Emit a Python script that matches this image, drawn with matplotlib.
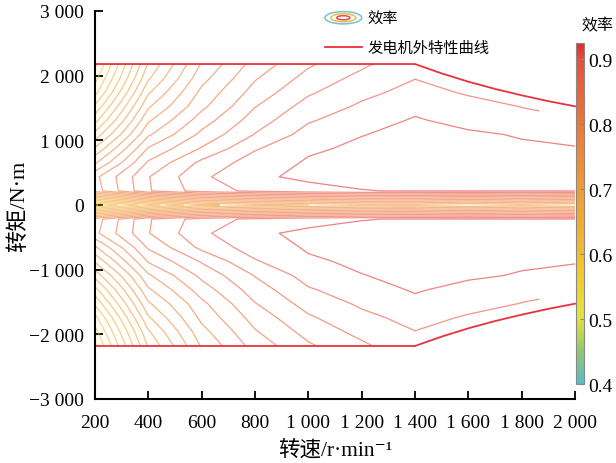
import numpy as np
import matplotlib
matplotlib.use("Agg")
import matplotlib.pyplot as plt
from matplotlib.colors import LinearSegmentedColormap, Normalize
from matplotlib.patches import Ellipse
from matplotlib.lines import Line2D
from matplotlib.legend_handler import HandlerBase

plt.rcParams['font.family'] = ['Liberation Serif', 'Noto Sans CJK SC', 'DejaVu Serif']
plt.rcParams['axes.unicode_minus'] = True

# grid of the efficiency map (upper half, mirrored below)
speed = [200, 400, 600, 800, 1000, 1200, 1400, 1600, 1800, 2000]
torque_half = [0, 218, 436, 654, 872, 1090, 1308, 1526, 1744, 1962, 2180]
nan = np.nan
# rows = torque_half, cols = speed; nan = outside the generator envelope
eff_half = [
    [0.597, 0.650, 0.695, 0.710, 0.720, 0.730, 0.730, 0.720, 0.730, 0.720],
    [0.790, 0.858, 0.890, 0.905, 0.915, 0.9195, 0.921, 0.921, 0.921, 0.921],
    [0.795, 0.859, 0.896, 0.9175, 0.923, 0.924, 0.925, 0.925, 0.924, 0.923],
    [0.757, 0.843, 0.885, 0.910, 0.922, 0.924, 0.925, 0.925, 0.924, 0.923],
    [0.723, 0.822, 0.862, 0.898, 0.9175, 0.923, 0.925, 0.924, 0.923, 0.9215],
    [0.687, 0.797, 0.845, 0.881, 0.908, 0.9195, 0.924, 0.923, 0.9185, 0.913],
    [0.653, 0.777, 0.830, 0.870, 0.898, 0.911, 0.922, 0.914, 0.906, 0.901],
    [0.623, 0.757, 0.815, 0.859, 0.888, 0.903, 0.915, 0.906, 0.8995, nan],
    [0.593, 0.737, 0.805, 0.848, 0.877, 0.895, 0.906, 0.898, nan, nan],
    [0.572, 0.717, 0.793, 0.838, 0.867, 0.886, 0.8995, nan, nan, nan],
    [0.555, 0.702, 0.782, 0.828, 0.857, 0.876, 0.895, nan, nan, nan],
]

# generator external characteristic (torque limit)
ext_speed = [200, 1400, 1500, 1600, 1700, 1800, 1900, 2000]
ext_torque = [2180, 2180, 2035, 1907, 1795, 1696, 1606, 1526]

levels = np.round(np.arange(0.40, 0.93, 0.02), 2)
cb_ticks = [0.4, 0.5, 0.6, 0.7, 0.8, 0.9]
cb_ticklabels = ['0.4', '0.5', '0.6', '0.7', '0.8', '0.9']
x_ticks = [200, 400, 600, 800, 1000, 1200, 1400, 1600, 1800, 2000]
x_ticklabels = ['200', '400', '600', '800', '1 000', '1 200', '1 400', '1 600', '1 800', '2 000']
y_ticks = [-3000, -2000, -1000, 0, 1000, 2000, 3000]
y_ticklabels = ['−3 000', '−2 000', '−1 000', '0', '1 000', '2 000', '3 000']

eh = np.array(eff_half)
th = np.array(torque_half)
torque = np.concatenate([-th[::-1], th[1:]])
eff = np.ma.masked_invalid(np.vstack([eh[::-1], eh[1:]]))

cmap = LinearSegmentedColormap.from_list('eff', [
    (0.0, '#55bfca'),
    (0.095, '#93c66e'),
    (0.19, '#e2e33c'),
    (0.29, '#f1d032'),
    (0.38, '#f1bd30'),
    (0.57, '#f09c32'),
    (0.76, '#ee7838'),
    (0.95, '#e8503a'),
    (1.0, '#e42a2a'),
])
norm = Normalize(vmin=0.4, vmax=0.925)

fig = plt.figure(figsize=(6.16, 4.64), dpi=100)
ax = fig.add_axes([95 / 616, 1 - 400 / 464, 480 / 616, 388 / 464])

ax.contour(speed, torque, eff, levels=levels, cmap=cmap, norm=norm,
           linewidths=0.9, alpha=0.6)

ext_col = '#e8323c'
ax.plot(ext_speed, ext_torque, color=ext_col, lw=1.3, clip_on=False)
ax.plot(ext_speed, [-t for t in ext_torque], color=ext_col, lw=1.3, clip_on=False)

ax.set_xlim(200, 2000)
ax.set_ylim(-3000, 3000)
ax.set_xticks(x_ticks)
ax.set_xticklabels(x_ticklabels)
ax.set_yticks(y_ticks)
ax.set_yticklabels(y_ticklabels)
ax.tick_params(direction='in', length=6, width=1.3, labelsize=14)
ax.tick_params(axis='x', pad=11)
ax.tick_params(axis='y', pad=8)
for s in ['top', 'right']:
    ax.spines[s].set_visible(False)
for s in ['left', 'bottom']:
    ax.spines[s].set_linewidth(1.5)

ax.set_xlabel('转速/r·min⁻¹', fontsize=15.5, labelpad=6)
ax.set_ylabel('转矩/N·m', fontsize=16, labelpad=0)


class HandlerRings(HandlerBase):
    def create_artists(self, legend, orig_handle, xdescent, ydescent,
                       width, height, fontsize, trans):
        cx = width / 2 - xdescent
        cy = height / 2 - ydescent
        out = []
        for fw, fh, c in [(1.0, 1.15, '#6cc6d0'), (0.68, 0.75, '#f2b84a'), (0.36, 0.38, '#e84a4a')]:
            out.append(Ellipse((cx, cy), width * fw, height * fh, fill=False,
                               edgecolor=c, lw=1.1, transform=trans))
        return out


rings = Ellipse((0, 0), 1, 1)
line_h = Line2D([], [], color=ext_col, lw=1.3)
ax.legend([rings, line_h], ['效率', '发电机外特性曲线'],
          handler_map={rings: HandlerRings()},
          loc='upper left', bbox_to_anchor=(325 / 616, 1 - 13 / 464),
          bbox_transform=fig.transFigure, frameon=False, fontsize=11,
          handlelength=2.4, handletextpad=0.4, labelspacing=1.0,
          borderpad=0, borderaxespad=0)

cax = fig.add_axes([576 / 616, 1 - 385 / 464, 8 / 616, 341 / 464])
sm = plt.cm.ScalarMappable(cmap=cmap, norm=norm)
cb = fig.colorbar(sm, cax=cax, ticks=cb_ticks)
cb.ax.set_yticklabels(cb_ticklabels)
cb.ax.tick_params(labelsize=14, length=3, width=0.8, direction='in', color='#888888', pad=3)
cb.outline.set_edgecolor('#888888')
cb.outline.set_linewidth(0.8)
fig.text(597 / 616, 1 - 26 / 464, '效率', ha='center', va='center', fontsize=11.5)

fig.savefig('out.png', dpi=100)
